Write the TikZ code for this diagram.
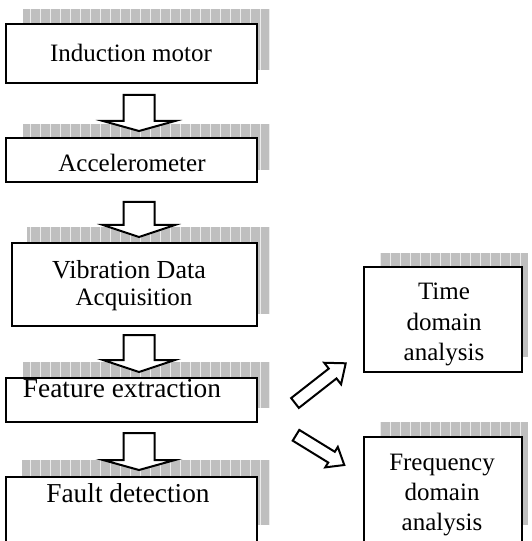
\documentclass[tikz,border=0pt]{standalone}
\usepackage{fontspec}
\setmainfont{Liberation Serif}
\newcommand\gridshadow[4]{%
  \fill[gray!50] (#1,#2) rectangle (#3,#4);
  \begin{scope}
    \clip (#1,#2) rectangle (#3,#4);
    \draw[gridline] (#1,#2) grid (#3,#4);
  \end{scope}}
% x centre, top, shoulder, tip
\newcommand\downblock[4]{%
  \draw[blockarrow] (#1-15.5,#2) -- (#1+15.5,#2) -- (#1+15.5,#3) -- (#1+36,#3)
    -- (#1,#4) -- (#1-36,#3) -- (#1-15.5,#3) -- cycle;}
% tail x, tail y, angle, length, shaft half width, head half width, head length
\newcommand\diagblock[7]{%
  \begin{scope}[shift={(#1,#2)}, rotate=#3]
    \draw[blockarrow] (0,-#5) -- (#4-#7,-#5) -- (#4-#7,-#6) -- (#4,0)
      -- (#4-#7,#6) -- (#4-#7,#5) -- (0,#5) -- cycle;
  \end{scope}}
\begin{document}
\begin{tikzpicture}[x=0.75pt,y=-0.75pt,
  gridline/.style={draw=gray!15, line width=0.75pt, step=10},
  boxstyle/.style={draw=black, line width=1.5pt, fill=white, inner sep=0pt},
  lbl/.style={font=\fontsize{18.75pt}{22.5pt}\selectfont, inner sep=0pt, anchor=base},
  lblbig/.style={lbl, font=\fontsize{20.5pt}{24pt}\selectfont},
  lblmid/.style={lbl, font=\fontsize{19.5pt}{23pt}\selectfont},
  blockarrow/.style={draw=black, line width=1.5pt, fill=white, line join=miter}]
\clip (0,0) rectangle (531,541);
\fill[white] (0,0) rectangle (531,541);

% shadows
\gridshadow{23}{9}{270}{70}
\gridshadow{23}{124}{270}{170}
\gridshadow{27}{227}{270}{314}
\gridshadow{23}{362}{270}{408}
\gridshadow{22}{460}{270}{525}
\gridshadow{380}{253}{528}{357}
\gridshadow{380}{422}{528}{525}

% boxes
\node[boxstyle, minimum width=188.25pt, minimum height=44.25pt] (b1) at (131.5,53.5) {};
\node[boxstyle, minimum width=188.25pt, minimum height=33pt] (b2) at (131.5,160) {};
\node[boxstyle, minimum width=183.75pt, minimum height=62.25pt] (b3) at (134.5,284.5) {};
\node[boxstyle, minimum width=188.25pt, minimum height=33pt] (b4) at (131.5,400) {};
\node[boxstyle, minimum width=188.25pt, minimum height=48.75pt] (b5) at (131.5,509.5) {};
\node[boxstyle, minimum width=118.5pt, minimum height=78.75pt] (bt) at (443,319.5) {};
\node[boxstyle, minimum width=118.5pt, minimum height=92.25pt] (bf) at (443,498.5) {};

% texts
\node[lbl] (t1) at (131,62) {Induction motor};
\node[lbl] (t2) at (132,172) {Accelerometer};
\node[lblmid] (t3a) at (129,278) {Vibration Data};
\node[lbl] (t3b) at (134,305) {Acquisition};
\node[lblbig] (t4) at (122,397) {Feature extraction};
\node[lblbig] (t5) at (128,502) {Fault detection};
\node[lbl] (tta) at (444,299) {Time};
\node[lbl] (ttb) at (444,330) {domain};
\node[lbl] (ttc) at (444,360) {analysis};
\node[lbl] (tfa) at (442,470) {Frequency};
\node[lbl] (tfb) at (442,500) {domain};
\node[lbl] (tfc) at (442,530) {analysis};

% block arrows
\downblock{139}{95}{121}{131}
\downblock{139}{202}{225}{237}
\downblock{139}{335}{360}{372}
\downblock{139}{433}{460}{470}
\diagblock{295}{403}{38.06}{64.4}{6.25}{13.7}{16.6}
\diagblock{296}{435.3}{-31.6}{56.7}{6.3}{12}{15}
\end{tikzpicture}
\end{document}
